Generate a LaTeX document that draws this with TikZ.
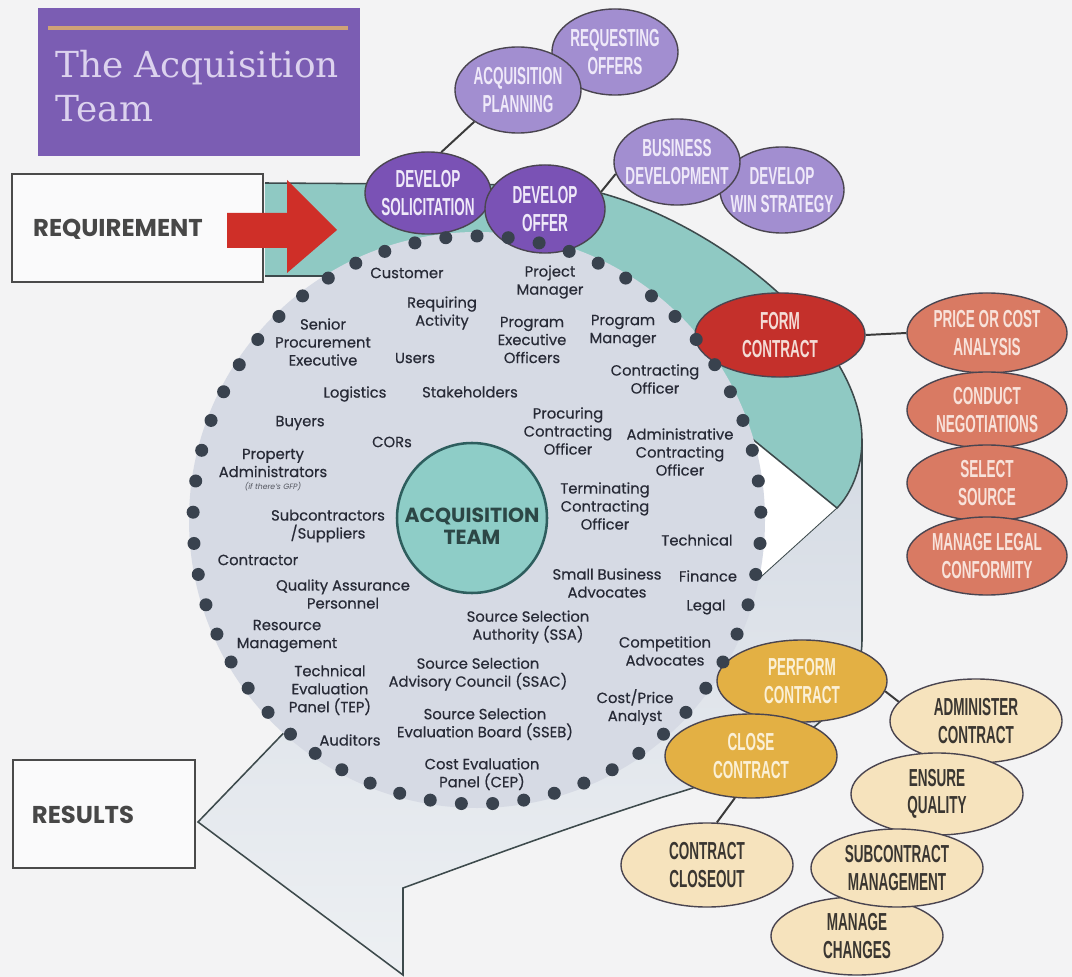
\documentclass[tikz,border=0pt]{standalone}
\usepackage{fontspec}
\setmainfont{Poppins}
\newfontfamily\lblfont[FakeBold=0.45]{Poppins}
\newfontfamily\condfont[FakeStretch=0.55]{Liberation Sans}
\newfontfamily\slabfont{DejaVu Serif}
\usetikzlibrary{shapes.geometric}
\definecolor{bgc}{HTML}{F3F3F4}
\definecolor{titlep}{HTML}{7B5DB3}
\definecolor{titletan}{HTML}{CFA277}
\definecolor{titletxt}{HTML}{DCD2EE}
\definecolor{boxline}{HTML}{4A4A4A}
\definecolor{boxtxt}{HTML}{474747}
\definecolor{arrowred}{HTML}{CF2F28}
\definecolor{tealband}{HTML}{8FC9C3}
\definecolor{lowtop}{HTML}{D5DBE4}
\definecolor{lowbot}{HTML}{EDF0F3}
\definecolor{bandline}{HTML}{3D4A4C}
\definecolor{discc}{HTML}{D6DAE4}
\definecolor{dotc}{HTML}{39424E}
\definecolor{lbltxt}{HTML}{272A36}
\definecolor{acqfill}{HTML}{8ECDC7}
\definecolor{acqline}{HTML}{2E5E5E}
\definecolor{acqtxt}{HTML}{2C4746}
\definecolor{darkp}{HTML}{7A52B5}
\definecolor{lightp}{HTML}{A28ED0}
\definecolor{ptxt}{HTML}{EFE9F9}
\definecolor{formred}{HTML}{C4302B}
\definecolor{formtxt}{HTML}{F4DCD6}
\definecolor{salmon}{HTML}{D97A63}
\definecolor{salmontxt}{HTML}{F8E2DA}
\definecolor{gold}{HTML}{E3B044}
\definecolor{goldtxt}{HTML}{FBF0D6}
\definecolor{cream}{HTML}{F6E3BD}
\definecolor{creamtxt}{HTML}{3A3631}
\definecolor{ellline}{HTML}{4A4550}
\definecolor{connc}{HTML}{3A3A3A}
\newcommand{\ellip}[8]{%
  \node[ellbase, fill=#6, minimum width=#4*0.05cm, minimum height=#5*0.05cm] (#1) at (#2,#3) {};
  \node[elltxt, text=#7] (#1-t) at (#1) {#8};}
\newcommand{\lbl}[4]{\node[lbl] (#1) at (#2,#3) {#4};}
\begin{document}
\begin{tikzpicture}[x=0.025cm,y=-0.025cm,
  ellbase/.style={ellipse, draw=ellline, line width=1pt, inner sep=0pt},
  elltxt/.style={align=center, inner sep=0pt, font=\condfont\bfseries\fontsize{17.5}{19.5}\selectfont},
  lbl/.style={align=center, inner sep=0pt, text=lbltxt, font=\lblfont\fontsize{10.5}{12.8}\selectfont},
  bigbox/.style={draw=boxline, line width=2pt, fill=white!60!bgc, inner sep=0pt},
  boxtext/.style={inner sep=0pt, text=boxtxt, font=\bfseries\fontsize{17.3}{20}\selectfont},
  conn/.style={draw=connc, line width=1.4pt},
  edge/.style={draw=bandline, line width=1.1pt}
  ]
\useasboundingbox (0,0) rectangle (1072,977);
\fill[bgc] (0,0) rectangle (1072,977);

% title
\fill[titlep] (38,8) rectangle (360,156);
\draw[titletan, line width=3.5pt] (48,28) -- (348,28);
\node[anchor=base west, inner sep=0pt, text=titletxt, font=\slabfont\fontsize{25.5}{31}\selectfont] (title1) at (55,78) {The Acquisition};
\node[anchor=base west, inner sep=0pt, text=titletxt, font=\slabfont\fontsize{25.5}{31}\selectfont] (title2) at (55,122) {Team};

% big band
\fill[tealband] (265,183) -- (560,185) .. controls (690,200) and (862,330) .. (862,440) .. controls (862,470) and (850,495) .. (837,508) -- (745,433) -- (325,276) -- (265,276) -- cycle;
\fill[white] (745,433) -- (837,508) -- (752,585) -- (650,500) -- cycle;
\shade[top color=lowtop, bottom color=lowbot] (837,508) .. controls (850,495) and (862,470) .. (862,440) -- (862,640) .. controls (862,720) and (760,770) .. (663,797) .. controls (560,830) and (480,860) .. (403,888) -- (403,975) -- (198,822) -- (300,716) -- (478,650) -- (752,585) -- cycle;
\draw[edge] (265,183) -- (560,185) .. controls (690,200) and (862,330) .. (862,440) .. controls (862,470) and (850,495) .. (837,508) -- (745,433);
\draw[edge, line width=0.6pt] (837,508) -- (752,585);
\draw[edge] (862,440) -- (862,640) .. controls (862,720) and (760,770) .. (663,797) .. controls (560,830) and (480,860) .. (403,888) -- (403,975) -- (198,822) -- (300,716);
\draw[edge] (265,276) -- (325,276);

% disc
\fill[discc] (477,520) circle (288);

% boxes
\node[bigbox, minimum width=251*0.025cm, minimum height=108*0.025cm] (req) at (137.5,228) {};
\node[boxtext] (req-t) at (118,229) {REQUIREMENT};
\node[bigbox, minimum width=182*0.025cm, minimum height=108*0.025cm] (res) at (104,814) {};
\node[boxtext] (res-t) at (83,815) {RESULTS};
\fill[arrowred] (227,213) -- (287,213) -- (287,180) -- (337,230) -- (287,273) -- (287,248) -- (227,248) -- cycle;

% labels in disc
\lbl{l1}{407}{273}{Customer}
\lbl{l2}{550}{282}{Project\\Manager}
\lbl{l3}{442}{313}{Requiring\\Activity}
\lbl{l4}{323}{342}{Senior\\Procurement\\Executive}
\lbl{l5}{532}{340}{Program\\Executive\\Officers}
\lbl{l6}{623}{331}{Program\\Manager}
\lbl{l7}{415}{358}{Users}
\lbl{l8}{355}{394}{Logistics}
\lbl{l9}{470}{392}{Stakeholders}
\lbl{l10}{655}{379}{Contracting\\Officer}
\lbl{l11}{300}{423}{Buyers}
\lbl{l12}{392}{442}{CORs}
\lbl{l13}{568}{431}{Procuring\\Contracting\\Officer}
\lbl{l14}{680}{452}{Administrative\\Contracting\\Officer}
\lbl{l15}{273}{463}{Property\\Administrators}
\node[inner sep=0pt, text=lbltxt!80, font=\itshape\fontsize{5.5}{6.5}\selectfont] (l15b) at (273,487) {(if there's GFP)};
\lbl{l16}{328}{526}{Subcontractors\\/Suppliers}
\lbl{l17}{605}{506}{Terminating\\Contracting\\Officer}
\lbl{l18}{697}{540}{Technical}
\lbl{l19}{258}{560}{Contractor}
\lbl{l20}{607}{583}{Small Business\\Advocates}
\lbl{l21}{708}{576}{Finance}
\lbl{l22}{343}{594}{Quality Assurance\\Personnel}
\lbl{l23}{706}{607}{Legal}
\lbl{l24}{528}{627}{Source Selection\\Authority (SSA)}
\lbl{l25}{287}{636}{Resource\\Management}
\lbl{l26}{665}{651}{Competition\\Advocates}
\lbl{l27}{330}{690}{Technical\\Evaluation\\Panel (TEP)}
\lbl{l28}{478}{674}{Source Selection\\Advisory Council (SSAC)}
\lbl{l29}{635}{707}{Cost/Price\\Analyst}
\lbl{l30}{485}{724}{Source Selection\\Evaluation Board (SSEB)}
\lbl{l31}{350}{740}{Auditors}
\lbl{l32}{482}{774}{Cost Evaluation\\Panel (CEP)}

% centre circle
\node[circle, fill=acqfill, draw=acqline, line width=1.8pt, minimum size=150*0.025cm, inner sep=0pt] (acq) at (472,518) {};
\node[inner sep=0pt, align=center, text=acqtxt, font=\bfseries\fontsize{14.5}{16}\selectfont] (acq-t) at (472,526) {ACQUISITION\\TEAM};

% ellipses
\ellip{reqoff}{615}{52}{63}{43}{lightp}{ptxt}{REQUESTING\\OFFERS}
\ellip{acqp}{518}{90}{63}{43}{lightp}{ptxt}{ACQUISITION\\PLANNING}
\ellip{dsol}{428}{193}{63}{41}{darkp}{ptxt}{DEVELOP\\SOLICITATION}
\ellip{doff}{545}{209}{60}{44}{darkp}{ptxt}{DEVELOP\\OFFER}
\ellip{wins}{782}{190}{62}{43}{lightp}{ptxt}{DEVELOP\\WIN STRATEGY}
\ellip{busdev}{677}{162}{63}{43}{lightp}{ptxt}{BUSINESS\\DEVELOPMENT}
\ellip{form}{780}{335}{85}{42}{formred}{formtxt}{FORM\\CONTRACT}
\ellip{price}{987}{333}{80}{40}{salmon}{salmontxt}{PRICE OR COST\\ANALYSIS}
\ellip{negot}{987}{410}{80}{38}{salmon}{salmontxt}{CONDUCT\\NEGOTIATIONS}
\ellip{select}{987}{483}{80}{38}{salmon}{salmontxt}{SELECT\\SOURCE}
\ellip{legal}{987}{556}{80}{39}{salmon}{salmontxt}{MANAGE LEGAL\\CONFORMITY}
\ellip{perf}{802}{681}{85}{41}{gold}{goldtxt}{PERFORM\\CONTRACT}
\ellip{close}{751}{756}{86}{42}{gold}{goldtxt}{CLOSE\\CONTRACT}
\ellip{admin}{976}{721}{86}{42}{cream}{creamtxt}{ADMINISTER\\CONTRACT}
\ellip{ensure}{937}{794}{86}{41}{cream}{creamtxt}{ENSURE\\QUALITY}
\ellip{manage}{857}{936}{86}{39}{cream}{creamtxt}{MANAGE\\CHANGES}
\ellip{subc}{897}{868}{86}{39}{cream}{creamtxt}{SUBCONTRACT\\MANAGEMENT}
\ellip{closeout}{707}{865}{86}{42}{cream}{creamtxt}{CONTRACT\\CLOSEOUT}

\draw[conn] (dsol.72) -- (acqp.216);
\draw[conn] (doff.17) -- (busdev.191);
\draw[conn] (form.east) -- (price.west);
\draw[conn] (perf.353) -- (admin.166);
\draw[conn] (close.249) -- (closeout.77);

% dots
\foreach \k in {0,...,56} {\fill[dotc] (477,520) ++({270+\k*6.31579}:284) circle (6.5);}
\end{tikzpicture}
\end{document}
